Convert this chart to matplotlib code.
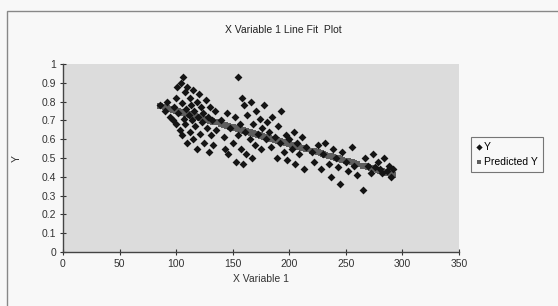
import numpy as np
import matplotlib
matplotlib.use("Agg")
import matplotlib.pyplot as plt
from matplotlib.patches import Rectangle

plt.rcParams['font.family'] = ['Liberation Sans', 'DejaVu Sans']

title = "X Variable 1 Line Fit  Plot"
x_label = "X Variable 1"
y_label = "Y"
series_names = ["Y", "Predicted Y"]
x_ticks = [0, 50, 100, 150, 200, 250, 300, 350]
y_ticks = [0, 0.1, 0.2, 0.3, 0.4, 0.5, 0.6, 0.7, 0.8, 0.9, 1]
y_tick_labels = ["0", "0.1", "0.2", "0.3", "0.4", "0.5", "0.6", "0.7", "0.8", "0.9", "1"]

x_values = [86, 90, 92, 95, 97, 98, 100, 100, 101, 102, 103, 104, 105, 105, 106, 107,
            108, 108, 109, 110, 110, 111, 112, 112, 113, 114, 115, 115, 116, 117, 118,
            118, 119, 120, 121, 122, 123, 124, 125, 126, 127, 128, 129, 130, 131, 132,
            133, 134, 135,
            140, 142, 143, 145, 146, 148, 150, 152, 153, 155, 155, 156, 157, 158, 159,
            160, 161, 162, 163, 165, 166, 167, 168, 170, 171, 172, 174, 175, 176, 178,
            179, 180,
            182, 184, 185, 187, 189, 190, 192, 193, 195, 197, 198, 200, 202, 204, 205,
            207, 209, 211, 213, 215,
            220, 222, 225, 228, 230, 232, 235, 237, 239, 241, 243, 245, 247, 250, 252,
            255, 257, 260,
            265, 267, 270, 272, 274, 276, 278, 280, 282, 284, 286, 288, 290, 292]
y_values = [.78, .75, .80, .72, .70, .77, .68, .82, .88, .74, .65, .90, .79, .62, .93, .71,
            .85, .68, .76, .88, .58, .73, .82, .64, .78, .70, .86, .60, .75, .67, .80,
            .55, .72, .84, .63, .77, .69, .74, .58, .81, .66, .72, .53, .77, .62, .70,
            .57, .75, .65,
            .70, .61, .55, .74, .52, .66, .58, .72, .48, .93, .62, .68, .55, .82, .47,
            .78, .64, .52, .73, .60, .80, .50, .68, .57, .75, .63, .71, .55, .66, .78,
            .60, .69,
            .64, .56, .72, .61, .50, .67, .58, .75, .53, .62, .49, .60, .55, .64, .47,
            .58, .52, .61, .44, .56,
            .53, .48, .57, .44, .52, .58, .47, .40, .55, .50, .45, .36, .53, .48, .43,
            .56, .46, .41,
            .33, .50, .46, .42, .52, .45, .48, .44, .42, .50, .43, .46, .40, .44]

x = np.array(x_values, dtype=float)
y = np.array(y_values, dtype=float)
coef = np.polyfit(x, y, 1)
predicted = np.polyval(coef, x)

W, H = 558, 306
fig = plt.figure(figsize=(W / 100, H / 100), dpi=100)
fig.patch.set_facecolor('#f8f8f8')

# outer chart border
fig.patches.append(Rectangle((7 / W, -0.02), 1.1, 1 - 11 / H + 0.02, transform=fig.transFigure,
                             fill=False, edgecolor='#888888', linewidth=1.0))

ax = fig.add_axes([63 / W, 1 - 252 / H, (459 - 63) / W, (252 - 64) / H])
ax.set_facecolor('#dcdcdc')

ax.scatter(x, predicted, marker='s', s=16, color='#5e5e5e', linewidths=0, zorder=2,
           label=series_names[1])
ax.scatter(x, y, marker='D', s=16, color='#141414', linewidths=0, zorder=3,
           label=series_names[0])

ax.set_xlim(0, 350)
ax.set_ylim(0, 1)
ax.set_xticks(x_ticks)
ax.set_xticklabels([str(t) for t in x_ticks])
ax.set_yticks(y_ticks)
ax.set_yticklabels(y_tick_labels)
ax.tick_params(axis='both', direction='inout', length=4, width=0.8, labelsize=7.5,
               colors='#333333', pad=3)
for side in ['top', 'right']:
    ax.spines[side].set_visible(False)
for side in ['left', 'bottom']:
    ax.spines[side].set_color('#444444')
    ax.spines[side].set_linewidth(1.0)

ax.set_xlabel(x_label, fontsize=7.5, color='#333333', labelpad=4)
ax.set_ylabel(y_label, fontsize=7.5, color='#333333', labelpad=14)
fig.text(283 / W, 1 - 30 / H, title, fontsize=7.5, color='#222222', ha='center', va='center')

handles, labels = ax.get_legend_handles_labels()
leg = fig.legend(handles[::-1], labels[::-1], loc='upper left',
                 bbox_to_anchor=(471 / W, 1 - 137 / H), fontsize=7.5, frameon=True,
                 fancybox=False, edgecolor='#555555', handlelength=0.5, handletextpad=0.2,
                 borderpad=0.5, labelspacing=0.45, markerscale=0.8, borderaxespad=0)
leg.get_frame().set_linewidth(0.8)
leg.get_frame().set_facecolor('#f8f8f8')

fig.savefig('out.png', dpi=100, facecolor=fig.get_facecolor())
